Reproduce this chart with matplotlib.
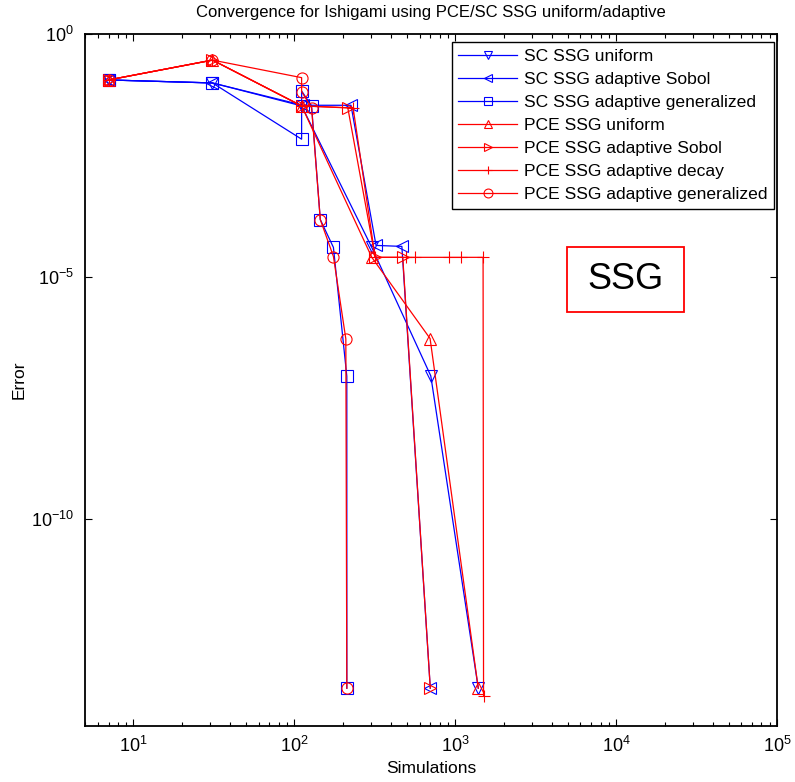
import numpy as np
import matplotlib
matplotlib.use("Agg")
import matplotlib.pyplot as plt
from matplotlib.patches import Rectangle
from matplotlib.ticker import LogLocator, FuncFormatter, NullLocator

plt.rcParams['font.family'] = ['Liberation Sans', 'DejaVu Sans']
plt.rcParams['mathtext.fontset'] = 'custom'
plt.rcParams['mathtext.rm'] = 'Liberation Sans'

# Antal simuleringar och fel for varje serie (avlasta fran bilden)
scUniformN = [7, 31, 111, 303, 705, 1391]
scUniformErr = [0.113, 0.098, 0.033, 4.0e-5, 9.0e-8, 3.3e-14]

scSobolN = [7, 31, 113, 225, 322, 466, 700]
scSobolErr = [0.113, 0.098, 0.034, 0.034, 4.4e-5, 4.2e-5, 3.3e-14]

scGenN = [7, 31, 111, 111, 128, 145, 175, 212, 212]
scGenErr = [0.113, 0.098, 0.0068, 0.067, 0.033, 1.5e-4, 4.0e-5, 8.8e-8, 3.3e-14]

pceUniformN = [7, 31, 111, 303, 698, 1391]
pceUniformErr = [0.113, 0.29, 0.033, 2.5e-5, 5.3e-7, 3.3e-14]

pceSobolN = [7, 31, 111, 215, 318, 472, 700]
pceSobolErr = [0.113, 0.29, 0.033, 0.030, 2.5e-5, 2.5e-5, 3.3e-14]

pceDecayN = [7, 31, 111, 232, 318, 495, 563, 918, 1090, 1490, 1500]
pceDecayErr = [0.113, 0.29, 0.033, 0.030, 2.5e-5, 2.5e-5, 2.5e-5, 2.5e-5, 2.5e-5, 2.5e-5, 2.3e-14]

pceGenN = [7, 31, 111, 111, 128, 145, 175, 209, 212]
pceGenErr = [0.113, 0.29, 0.126, 0.065, 0.030, 1.5e-4, 2.6e-5, 5.2e-7, 3.3e-14]

labels = ['SC SSG uniform', 'SC SSG adaptive Sobol', 'SC SSG adaptive generalized',
          'PCE SSG uniform', 'PCE SSG adaptive Sobol', 'PCE SSG adaptive decay',
          'PCE SSG adaptive generalized']

blue = '#0000ff'
red = '#ff0000'

fig = plt.figure(figsize=(7.95, 7.82), dpi=100)
ax = fig.add_axes([85 / 795, 1 - 726 / 782, 692 / 795, 692 / 782])

series = [
    (scUniformN, scUniformErr, blue, 'v'),
    (scSobolN, scSobolErr, blue, '<'),
    (scGenN, scGenErr, blue, 's'),
    (pceUniformN, pceUniformErr, red, '^'),
    (pceSobolN, pceSobolErr, red, '>'),
    (pceDecayN, pceDecayErr, red, '+'),
    (pceGenN, pceGenErr, red, 'o'),
]
for (n, err, col, mk), lab in zip(series, labels):
    ax.loglog(n, err, color=col, marker=mk, markersize=8, markerfacecolor='none',
              markeredgecolor=col, markeredgewidth=0.8, linewidth=0.9, label=lab)

ax.set_xlim(5, 1e5)
ax.set_ylim(5.5e-15, 1)

ax.xaxis.set_major_locator(LogLocator(base=10, numticks=10))
ax.xaxis.set_minor_locator(LogLocator(base=10, subs=np.arange(2, 10), numticks=20))
ax.set_yticks([1e-10, 1e-5, 1e0])
ax.yaxis.set_minor_locator(NullLocator())

fmt = FuncFormatter(lambda v, p: r'$\mathregular{10^{%d}}$' % int(round(np.log10(v))))
ax.xaxis.set_major_formatter(fmt)
ax.yaxis.set_major_formatter(fmt)

ax.tick_params(which='both', direction='in', top=True, right=True, labelsize=13)
ax.tick_params(which='major', length=5, width=0.8)
ax.tick_params(which='minor', length=3, width=0.8)
ax.tick_params(axis='x', pad=7)
ax.tick_params(axis='y', pad=8)
for sp in ax.spines.values():
    sp.set_linewidth(1.3)

ax.set_title('Convergence for Ishigami using PCE/SC SSG uniform/adaptive', fontsize=12, pad=12)
ax.set_xlabel('Simulations', fontsize=12.5, labelpad=4)
ax.set_ylabel('Error', fontsize=12.5, labelpad=3)

leg = ax.legend(loc='upper right', bbox_to_anchor=(0.9957, 0.988), borderaxespad=0,
                fontsize=12.6, handlelength=3.4, handletextpad=0.4, labelspacing=0.45,
                markerscale=0.8, fancybox=False, framealpha=1, edgecolor='black',
                borderpad=0.35)
leg.get_frame().set_linewidth(1.0)

# Rutan med SSG
ax.add_patch(Rectangle((0.6965, 0.5983), 0.169, 0.0939, transform=ax.transAxes,
                       facecolor='white', edgecolor=red, linewidth=1.3, zorder=5))
ax.text(0.781, 0.645, 'SSG', transform=ax.transAxes, fontsize=26,
        ha='center', va='center', zorder=6)

fig.savefig('out.png', dpi=100)
